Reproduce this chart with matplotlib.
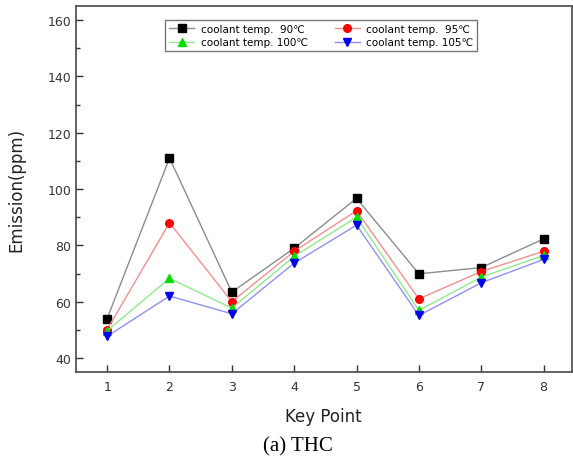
import matplotlib
matplotlib.use("Agg")
import matplotlib.pyplot as plt
from matplotlib.ticker import MultipleLocator

# key points on the x axis
key_points = [1, 2, 3, 4, 5, 6, 7, 8]

# THC emission (ppm) per coolant temperature
thc_90 = [54.0, 111.0, 63.4, 79.0, 96.7, 69.9, 72.1, 82.3]
thc_95 = [50.1, 88.0, 60.0, 77.9, 92.3, 61.0, 70.7, 77.9]
thc_100 = [49.7, 68.3, 57.7, 76.1, 90.0, 56.9, 68.7, 76.4]
thc_105 = [47.7, 62.0, 55.7, 73.7, 87.2, 55.1, 66.7, 75.0]

labels = ["coolant temp.  90\u2103", "coolant temp.  95\u2103",
          "coolant temp. 100\u2103", "coolant temp. 105\u2103"]

plt.rcParams['font.family'] = ['DejaVu Sans']

fig = plt.figure(figsize=(5.73, 4.60), dpi=100)
ax = fig.add_axes([0.1326, 0.189, 0.865, 0.7957])

series = [thc_90, thc_95, thc_100, thc_105]
markers = ['s', 'o', '^', 'v']
mcolors = ['black', 'red', '#00dd00', '#0000ee']
lcolors = ['#8c8c8c', '#f09090', '#90e890', '#9090f0']

handles = []
for ys, m, mc, lc, lab in zip(series, markers, mcolors, lcolors, labels):
    h, = ax.plot(key_points, ys, color=lc, lw=1.0, marker=m, markersize=5.5,
                 markerfacecolor=mc, markeredgecolor=mc, label=lab)
    handles.append(h)

ax.set_xlim(0.5, 8.45)
ax.set_ylim(35, 165)
ax.set_xticks(key_points)
ax.yaxis.set_major_locator(MultipleLocator(20))
ax.yaxis.set_minor_locator(MultipleLocator(10))
ax.tick_params(axis='both', which='major', direction='in', length=5,
               width=1, labelsize=9, colors='#333333')
ax.tick_params(axis='y', which='minor', direction='in', length=3, width=1,
               colors='#333333')
ax.tick_params(axis='x', pad=6)
for s in ax.spines.values():
    s.set_color('#555555')
    s.set_linewidth(1.3)

ax.set_xlabel("Key Point", fontsize=12, labelpad=10, color='#222222')
ax.set_ylabel("Emission(ppm)", fontsize=12, labelpad=16, color='#222222')

# legend filled row by row: 90, 95 / 100, 105
order = [0, 2, 1, 3]
leg = ax.legend([handles[i] for i in order], [labels[i] for i in order],
                ncol=2, loc='upper center', bbox_to_anchor=(0.495, 0.962),
                fontsize=7.5, frameon=True, fancybox=False, handlelength=2.4,
                columnspacing=2.6, borderpad=0.4, labelspacing=0.3,
                handletextpad=0.6, borderaxespad=0)
leg.get_frame().set_edgecolor('#555555')
leg.get_frame().set_linewidth(1.0)

fig.text(0.519, 0.028, "(a) THC", fontsize=15, family='Liberation Serif',
         ha='center', va='center')

fig.savefig("out.png", dpi=100)
